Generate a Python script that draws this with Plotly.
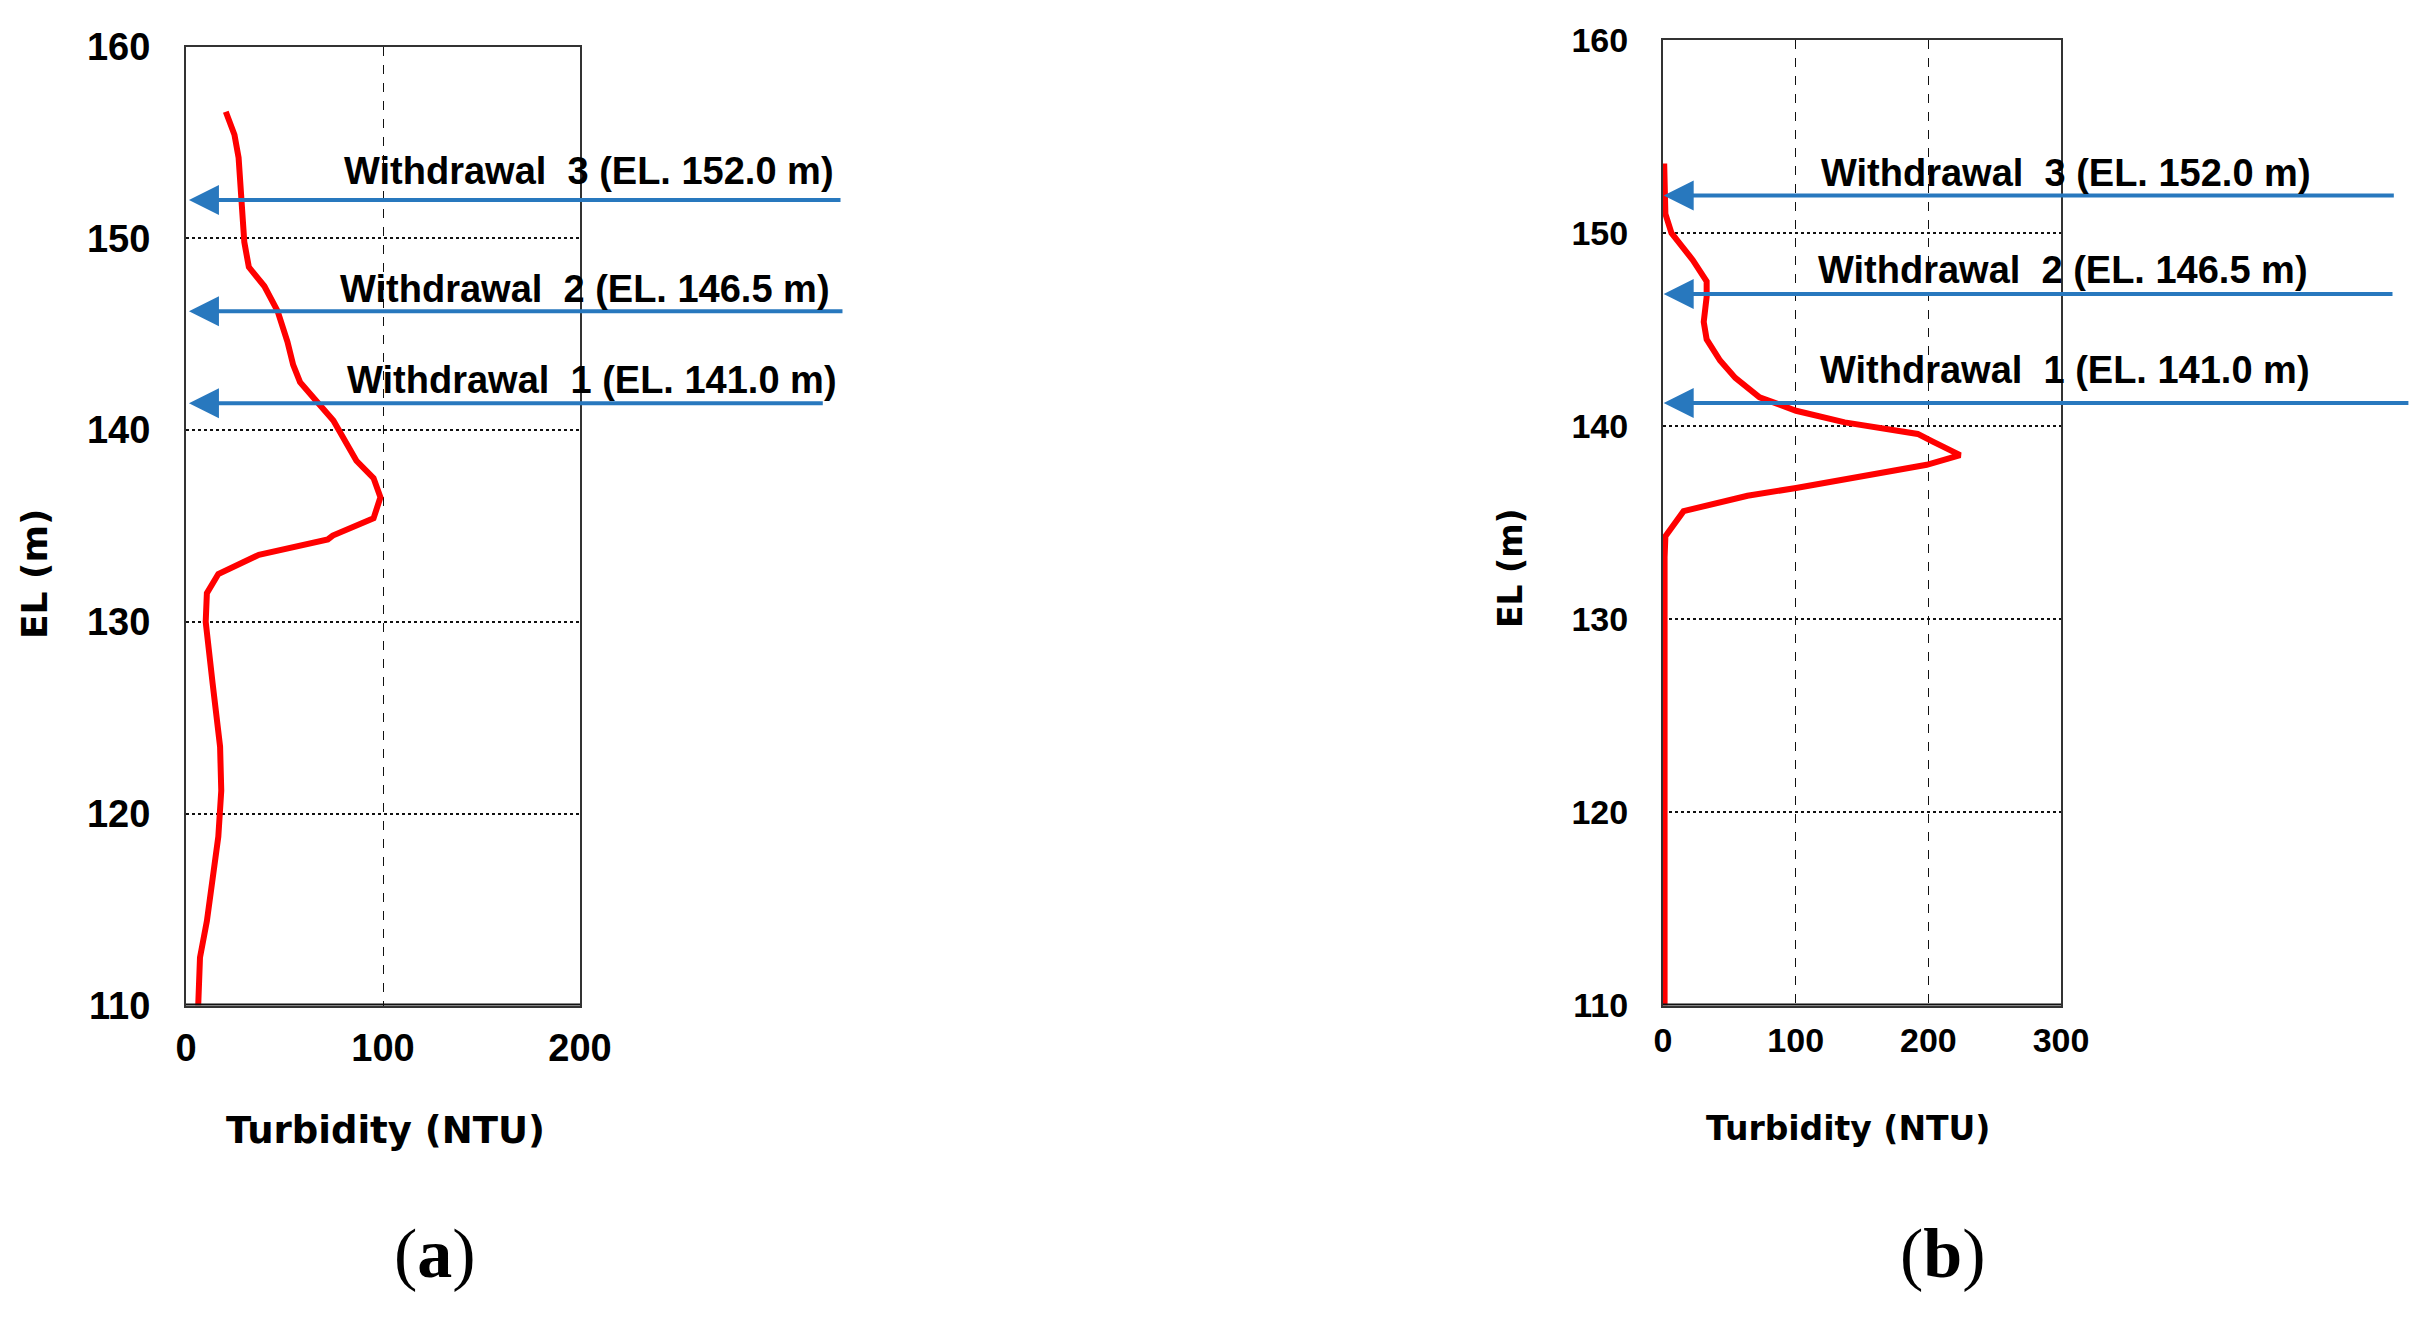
import plotly.graph_objects as go

W, H = 2433, 1331
OFF = 8  # page body margin offset in the screenshot

# ---------------- data ----------------
# Panel (a): turbidity profile
a_turb = [20.2, 24.6, 26.7, 28.1, 29.6, 31.9, 39.8, 46.5, 51.5, 54.4, 57.9, 65.5, 74.8,
          86.5, 95.2, 98.7, 95.2, 74.5, 72.0, 37.0, 16.4, 10.6, 10.0, 13.5, 17.3, 17.9,
          16.4, 13.5, 10.6, 7.1, 6.2]
a_el = [156.6, 155.4, 154.2, 152.0, 149.8, 148.5, 147.5, 146.2, 144.6, 143.4, 142.5, 141.6,
        140.5, 138.4, 137.5, 136.5, 135.4, 134.5, 134.3, 133.5, 132.5, 131.5, 130.0, 126.8,
        123.5, 121.2, 118.8, 116.6, 114.4, 112.5, 110.0]

# Panel (b): turbidity profile
b_turb = [0.9, 1.0, 1.8, 6.4, 22.5, 32.9, 32.9, 30.7, 32.9, 43.0, 54.5, 72.8, 100.3, 137.0,
          192.0, 203.4, 224.0, 198.8, 159.9, 100.3, 63.7, 15.5, 1.8, 1.2, 1.2]
b_el = [153.6, 152.0, 151.0, 150.0, 148.6, 147.5, 146.7, 145.4, 144.5, 143.4, 142.5, 141.5,
        140.8, 140.2, 139.6, 139.2, 138.5, 138.0, 137.5, 136.8, 136.4, 135.6, 134.3, 133.2, 110.0]

# Withdrawal outlets (arrow elevations as drawn)
wd_labels = ["Withdrawal\u00a0 3 (EL. 152.0 m)",
             "Withdrawal\u00a0 2 (EL. 146.5 m)",
             "Withdrawal\u00a0 1 (EL. 141.0 m)"]
a_arrow_el = [152.0, 146.2, 141.4]
a_arrow_tail = [333, 334, 324]
b_arrow_el = [151.95, 146.85, 141.2]
b_arrow_tail = [552, 551, 563]

a_xticks = [0, 100, 200]
b_xticks = [0, 100, 200, 300]
y_ticks = [110, 120, 130, 140, 150, 160]

RED = "#FF0000"
BLUE = "#2878BE"


def fx(px):
    return (px - OFF) / W


def fy(py):
    return 1 - (py - OFF) / H


fig = go.Figure()
fig.add_trace(go.Scatter(x=a_turb, y=a_el, mode="lines", line=dict(color=RED, width=6),
                         xaxis="x", yaxis="y", showlegend=False, hoverinfo="skip"))
fig.add_trace(go.Scatter(x=b_turb, y=b_el, mode="lines", line=dict(color=RED, width=6),
                         xaxis="x2", yaxis="y2", showlegend=False, hoverinfo="skip"))


def xax(domain, rng, ticks, fs, anchor, standoff):
    return dict(domain=domain, range=rng, tickvals=ticks, showgrid=True, gridcolor="#111",
                griddash="dash", gridwidth=1, showline=True, linecolor="#333", linewidth=2,
                mirror=True, ticks="", zeroline=False, anchor=anchor, layer="below traces",
                tickfont=dict(family="Liberation Sans", size=fs, color="black",
                              weight="bold"),
                ticklabelstandoff=standoff, fixedrange=True, automargin=False)


def yax(domain, fs, anchor):
    return dict(domain=domain, range=[110, 160], tickvals=y_ticks, showgrid=True,
                gridcolor="#111", griddash="dot", gridwidth=1.5, showline=True,
                linecolor="#333", linewidth=2, mirror=True, ticks="", zeroline=False,
                anchor=anchor, layer="below traces",
                tickfont=dict(family="Liberation Sans", size=fs, color="black",
                              weight="bold"),
                ticklabelstandoff=26, fixedrange=True, automargin=False)


fig.update_layout(
    width=W, height=H, autosize=False,
    margin=dict(l=0, r=0, t=0, b=0, pad=0, autoexpand=False),
    paper_bgcolor="white", plot_bgcolor="white", showlegend=False,
    xaxis=xax([fx(186), fx(580)], [0, 200], a_xticks, 38, "y", 8),
    yaxis=yax([fy(1005.5), fy(46.5)], 38, "x"),
    xaxis2=xax([fx(1663), fx(2061)], [0, 300], b_xticks, 34, "y2", 4),
    yaxis2=yax([fy(1005.5), fy(40)], 34, "x2"),
)

# thicker bottom axis lines
fig.add_shape(type="line", xref="x", yref="y", x0=0, x1=200, y0=110, y1=110,
              line=dict(color="#111", width=4))
fig.add_shape(type="line", xref="x2", yref="y2", x0=0, x1=300, y0=110, y1=110,
              line=dict(color="#111", width=4))

ann = []
# arrows
for el, tail in zip(a_arrow_el, a_arrow_tail):
    ann.append(dict(x=1.5, y=el, xref="x", yref="y", ax=tail, ay=el, axref="x", ayref="y",
                    text="", showarrow=True, arrowhead=2, arrowsize=1.5, arrowwidth=4,
                    arrowcolor=BLUE, standoff=0))
for el, tail in zip(b_arrow_el, b_arrow_tail):
    ann.append(dict(x=0.5, y=el, xref="x2", yref="y2", ax=tail, ay=el, axref="x2", ayref="y2",
                    text="", showarrow=True, arrowhead=2, arrowsize=1.5, arrowwidth=4,
                    arrowcolor=BLUE, standoff=0))

# withdrawal labels (pixel positions)
a_lab_pos = [(589, 171), (585, 289), (592, 380)]
b_lab_pos = [(2066, 173), (2063, 270), (2065, 370)]
for txt, (px, py) in zip(wd_labels, a_lab_pos):
    ann.append(dict(x=fx(px), y=fy(py), xref="paper", yref="paper", text="<b>" + txt + "</b>",
                    showarrow=False, xanchor="center", yanchor="middle",
                    font=dict(family="Liberation Sans", size=38, color="black")))
for txt, (px, py) in zip(wd_labels, b_lab_pos):
    ann.append(dict(x=fx(px), y=fy(py), xref="paper", yref="paper", text="<b>" + txt + "</b>",
                    showarrow=False, xanchor="center", yanchor="middle",
                    font=dict(family="Liberation Sans", size=38, color="black")))

# axis titles
ann.append(dict(x=fx(34), y=fy(574), xref="paper", yref="paper", text="<b>EL (m)</b>",
                textangle=-90, showarrow=False, xanchor="center", yanchor="middle",
                font=dict(family="DejaVu Sans", size=36, color="black")))
ann.append(dict(x=fx(1510), y=fy(568), xref="paper", yref="paper", text="<b>EL (m)</b>",
                textangle=-90, showarrow=False, xanchor="center", yanchor="middle",
                font=dict(family="DejaVu Sans", size=33, color="black")))
ann.append(dict(x=fx(385), y=fy(1130), xref="paper", yref="paper",
                text="<b>Turbidity (NTU)</b>", showarrow=False, xanchor="center",
                yanchor="middle", font=dict(family="DejaVu Sans", size=37, color="black")))
ann.append(dict(x=fx(1848), y=fy(1128), xref="paper", yref="paper",
                text="<b>Turbidity (NTU)</b>", showarrow=False, xanchor="center",
                yanchor="middle", font=dict(family="DejaVu Sans", size=33, color="black")))

# panel labels
ann.append(dict(x=fx(435), y=fy(1253), xref="paper", yref="paper", text="(<b>a</b>)",
                showarrow=False, xanchor="center", yanchor="middle",
                font=dict(family="Liberation Serif", size=70, color="black")))
ann.append(dict(x=fx(1943), y=fy(1253), xref="paper", yref="paper", text="(<b>b</b>)",
                showarrow=False, xanchor="center", yanchor="middle",
                font=dict(family="Liberation Serif", size=70, color="black")))

fig.update_layout(annotations=ann)

fig.write_html("out.html")
